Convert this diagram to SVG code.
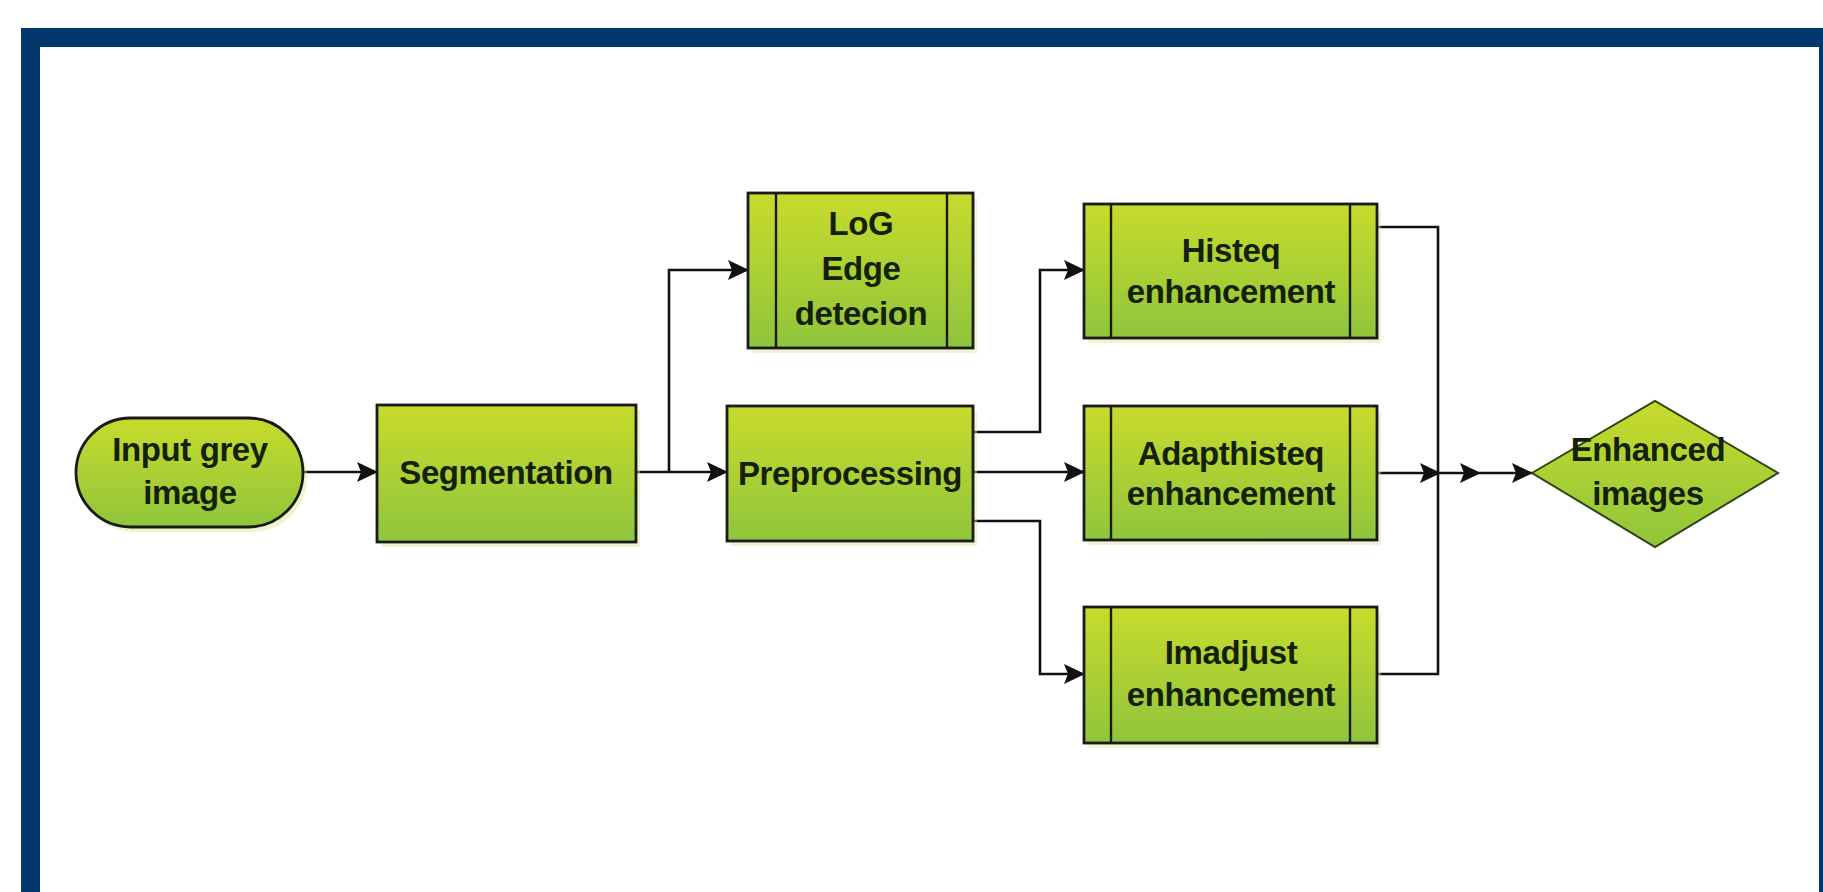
<svg xmlns="http://www.w3.org/2000/svg" width="1823" height="892" viewBox="0 0 1823 892">
<style>
.box{fill:url(#g);stroke:#1a1a1a;stroke-width:2.8}
.sh{fill:#d9e88f;opacity:0.45}
.in{stroke:#1a1a1a;stroke-width:2.4;fill:none}
.t{font-family:"Liberation Sans",Arial,sans-serif;font-weight:bold;font-size:33px;letter-spacing:-0.4px;fill:#14200a;text-anchor:middle}
.c{fill:none;stroke:#111;stroke-width:2.6}
.ca{fill:none;stroke:#111;stroke-width:2.6;marker-end:url(#arr)}
.fr{fill:#02386b}
</style>
<defs>
<linearGradient id="g" x1="0" y1="0" x2="0" y2="1">
<stop offset="0" stop-color="#c8db2c"/>
<stop offset="1" stop-color="#8fc53c"/>
</linearGradient>
<marker id="arr" markerWidth="22" markerHeight="20" refX="20" refY="10" orient="auto" markerUnits="userSpaceOnUse">
<path d="M0,0 L21,10 L0,20 L4,10 z" fill="#111"/>
</marker>
</defs>
<rect width="1823" height="892" fill="#ffffff"/>
<g id="frame">
<rect class="fr" x="21" y="28" width="1802" height="19"/>
<rect class="fr" x="21" y="28" width="19" height="864"/>
<rect class="fr" x="1819" y="28" width="4" height="864"/>
</g>
<g id="connectors">
<path class="ca" d="M303,472 H377"/>
<path class="ca" d="M636,472 H727"/>
<path class="ca" d="M669,472 V270 H748"/>
<path class="ca" d="M973,432 H1040 V270 H1084"/>
<path class="ca" d="M973,472 H1084"/>
<path class="ca" d="M973,521 H1040 V674 H1084"/>
<path class="c" d="M1377,227 H1438 V674 H1350"/>
<path class="ca" d="M1377,473 H1440"/>
<path class="ca" d="M1440,473 H1480"/>
<path class="ca" d="M1480,473 H1532"/>
</g>
<g id="input">
<rect class="sh" x="80" y="423" width="227" height="109" rx="54.5"/>
<rect class="box" x="76" y="418" width="227" height="109" rx="54.5"/>
<text class="t" x="190" y="461">Input grey</text>
<text class="t" x="190" y="504">image</text>
</g>
<g id="segmentation">
<rect class="sh" x="381" y="410" width="259" height="137"/>
<rect class="box" x="377" y="405" width="259" height="137"/>
<text class="t" x="506" y="484">Segmentation</text>
</g>
<g id="log">
<rect class="sh" x="752" y="198" width="225" height="155"/>
<rect class="box" x="748" y="193" width="225" height="155"/>
<line class="in" x1="776" y1="193" x2="776" y2="348"/>
<line class="in" x1="947" y1="193" x2="947" y2="348"/>
<text class="t" x="861" y="235">LoG</text>
<text class="t" x="861" y="280">Edge</text>
<text class="t" x="861" y="325">detecion</text>
</g>
<g id="preprocessing">
<rect class="sh" x="731" y="411" width="246" height="135"/>
<rect class="box" x="727" y="406" width="246" height="135"/>
<text class="t" x="850" y="485">Preprocessing</text>
</g>
<g id="histeq">
<rect class="sh" x="1088" y="209" width="293" height="134"/>
<rect class="box" x="1084" y="204" width="293" height="134"/>
<line class="in" x1="1111" y1="204" x2="1111" y2="338"/>
<line class="in" x1="1350" y1="204" x2="1350" y2="338"/>
<text class="t" x="1231" y="262">Histeq</text>
<text class="t" x="1231" y="303">enhancement</text>
</g>
<g id="adapthisteq">
<rect class="sh" x="1088" y="411" width="293" height="134"/>
<rect class="box" x="1084" y="406" width="293" height="134"/>
<line class="in" x1="1111" y1="406" x2="1111" y2="540"/>
<line class="in" x1="1350" y1="406" x2="1350" y2="540"/>
<text class="t" x="1231" y="465">Adapthisteq</text>
<text class="t" x="1231" y="505">enhancement</text>
</g>
<g id="imadjust">
<rect class="sh" x="1088" y="612" width="293" height="136"/>
<rect class="box" x="1084" y="607" width="293" height="136"/>
<line class="in" x1="1111" y1="607" x2="1111" y2="743"/>
<line class="in" x1="1350" y1="607" x2="1350" y2="743"/>
<text class="t" x="1231" y="664">Imadjust</text>
<text class="t" x="1231" y="706">enhancement</text>
</g>
<g id="enhanced">
<polygon points="1532,473 1655,401 1778,473 1655,547" fill="url(#g)" stroke="#2f4410" stroke-width="2"/>
<text class="t" x="1648" y="461">Enhanced</text>
<text class="t" x="1648" y="505">images</text>
</g>
</svg>
